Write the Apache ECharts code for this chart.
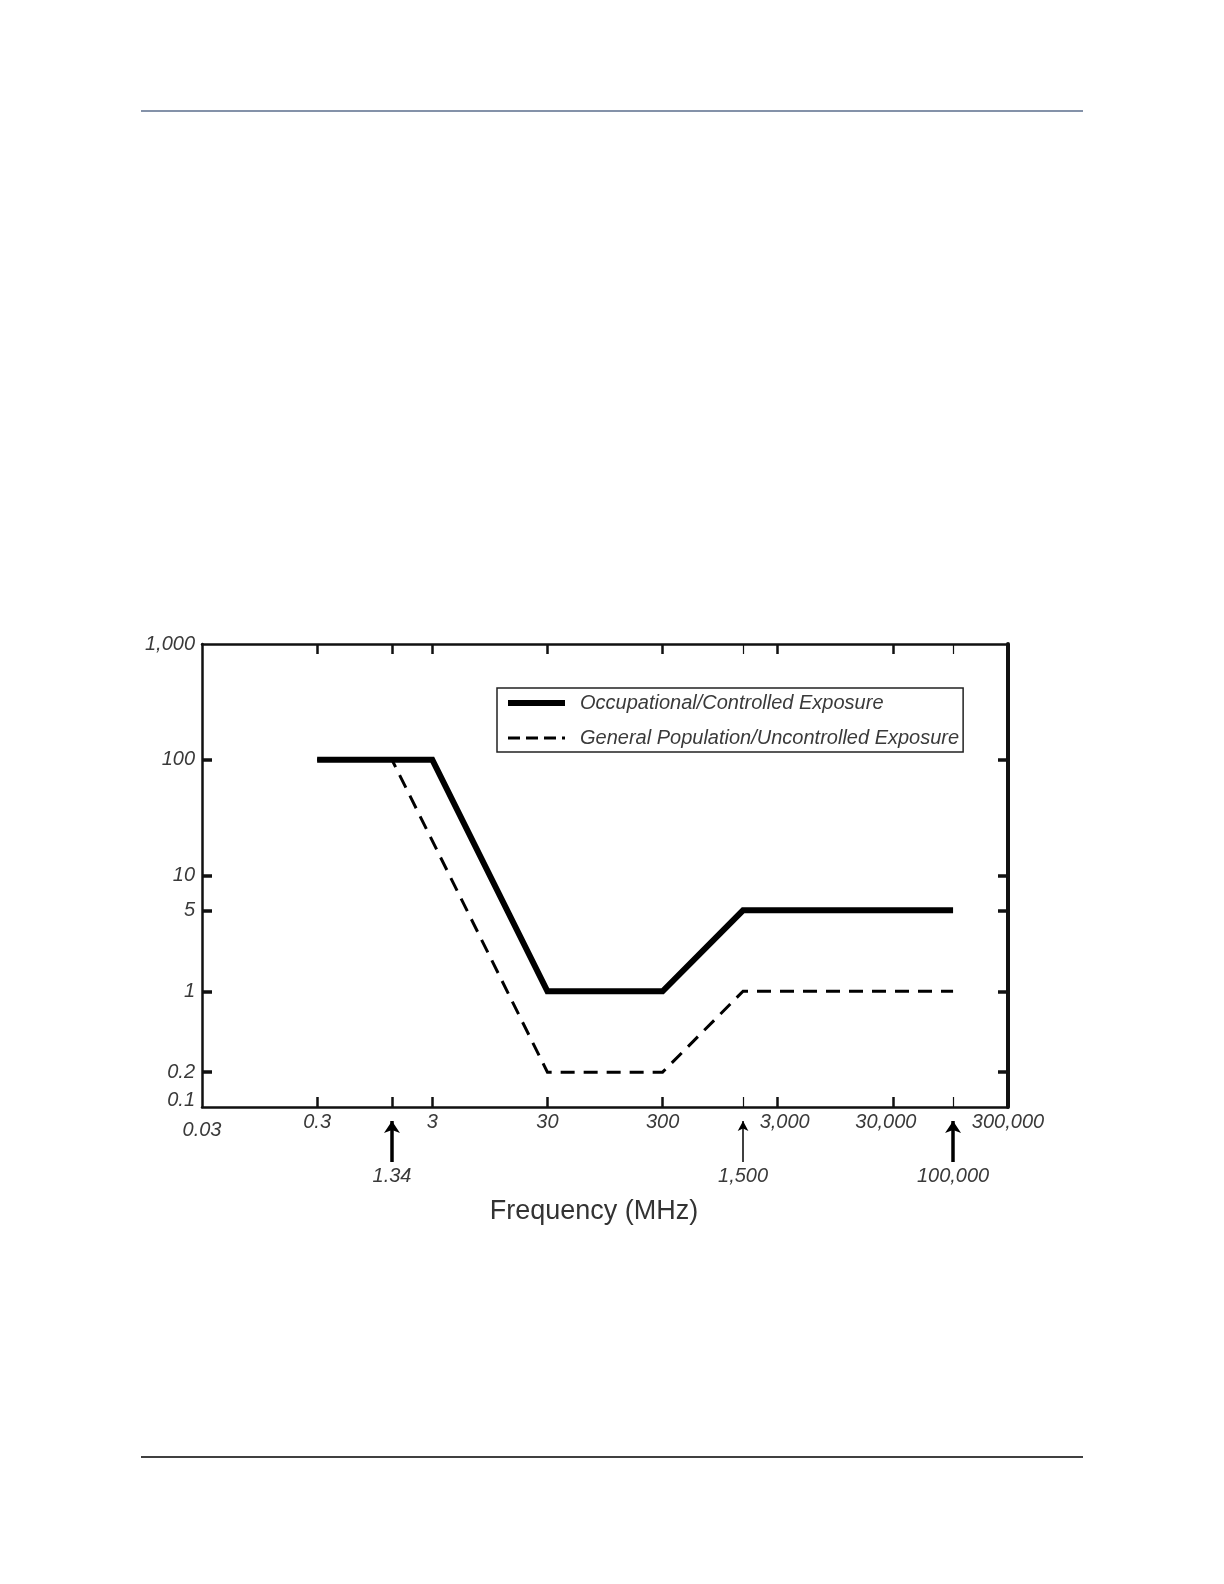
<!DOCTYPE html>
<html>
<head>
<meta charset="utf-8">
<script src="https://cdn.jsdelivr.net/npm/echarts@6/dist/echarts.min.js"></script>
<style>
  html, body { margin: 0; padding: 0; background: #fff; }
  #chart { width: 1224px; height: 1584px; }
</style>
</head>
<body>
<div id="chart"></div>
<script>
// frequency in MHz, power density in mW/cm2
const occFreq = [0.3, 3, 30, 300, 1500, 100000];
const occDensity = [100, 100, 1, 1, 5, 5];
const genFreq = [0.3, 1.34, 30, 300, 1500, 100000];
const genDensity = [100, 100, 0.2, 0.2, 1, 1];

const freqTicks = [0.3, 1.34, 3, 30, 300, 3000, 30000];
const freqThinTicks = [1500, 100000];
const freqLabelValues = [0.03, 0.3, 3, 30, 300, 3000, 30000, 300000];
const freqLabels = ['0.03', '0.3', '3', '30', '300', '3,000', '30,000', '300,000'];
const densityTicks = [100, 10, 5, 1, 0.2];
const densityLabelValues = [1000, 100, 10, 5, 1, 0.2, 0.1];
const densityLabels = ['1,000', '100', '10', '5', '1', '0.2', '0.1'];
const arrowFreqs = [1.34, 1500, 100000];
const arrowLabels = ['1.34', '1,500', '100,000'];

const seriesNames = ['Occupational/Controlled Exposure', 'General Population/Uncontrolled Exposure'];

const lg = (v) => Math.log10(v);
const xMin = lg(freqLabelValues[0]);
const xMax = lg(freqLabelValues[freqLabelValues.length - 1]);
const yMin = lg(densityLabelValues[densityLabelValues.length - 1]);
const yMax = lg(densityLabelValues[0]);

const font = {
  fontFamily: 'Liberation Sans, Arial, sans-serif',
  fontStyle: 'italic',
  fontSize: 20,
  color: '#3a3a3a',
};
const axisColor = '#111';

// pick the label text that belongs to a log-space value
function labelFor(values, labels, v) {
  const idx = values.findIndex((x) => Math.abs(lg(x) - v) < 1e-6);
  return idx < 0 ? '' : labels[idx];
}

// a few labels sit a little off their tick in the original
const xShift = { '0.03': 'low', '3,000': 'right', '30,000': 'left' };
const yShift = { '0.1': 'up' };

function xAxisOf(position, ticks, tickWidth, withLine, withLabels) {
  return {
    type: 'value',
    gridIndex: 0,
    position: position,
    min: xMin,
    max: xMax,
    splitLine: { show: false },
    axisLine: { show: withLine, onZero: false, lineStyle: { color: axisColor, width: 2.5 } },
    axisTick: {
      show: true,
      inside: true,
      length: 10,
      customValues: ticks.map(lg),
      lineStyle: { color: axisColor, width: tickWidth },
    },
    axisLabel: withLabels
      ? {
          show: true,
          margin: 5,
          customValues: freqLabelValues.map(lg),
          ...font,
          formatter: (v) => {
            const t = labelFor(freqLabelValues, freqLabels, v);
            return xShift[t] ? '{' + xShift[t] + '|' + t + '}' : t;
          },
          rich: {
            low: { ...font, padding: [8, 0, 0, 0] },
            right: { ...font, padding: [0, 0, 0, 14] },
            left: { ...font, padding: [0, 14, 0, 0] },
          },
        }
      : { show: false },
  };
}

function yAxisOf(position, withLabels, width) {
  return {
    type: 'value',
    gridIndex: 0,
    position: position,
    min: yMin,
    max: yMax,
    splitLine: { show: false },
    axisLine: { show: true, onZero: false, lineStyle: { color: axisColor, width: width } },
    axisTick: {
      show: true,
      inside: true,
      length: 10,
      customValues: densityTicks.map(lg),
      lineStyle: { color: axisColor, width: 3.5 },
    },
    axisLabel: withLabels
      ? {
          show: true,
          margin: 7,
          customValues: densityLabelValues.map(lg),
          ...font,
          formatter: (v) => {
            const t = labelFor(densityLabelValues, densityLabels, v);
            return yShift[t] ? '{' + yShift[t] + '|' + t + '}' : t;
          },
          rich: { up: { ...font, padding: [0, 0, 14, 0] } },
        }
      : { show: false },
  };
}

const chart = echarts.init(document.getElementById('chart'), null, { renderer: 'canvas' });

const option = {
  animation: false,
  backgroundColor: '#fff',
  grid: [
    { left: 202, top: 644, width: 806, height: 463, outerBoundsMode: 'none' },
    { left: 202, top: 1121, width: 806, height: 41, outerBoundsMode: 'none' },
  ],
  legend: {
    left: 497,
    top: 688,
    orient: 'vertical',
    backgroundColor: '#fff',
    borderColor: '#222',
    borderWidth: 1.5,
    borderRadius: 0,
    padding: [3, 4, 2, 8],
    itemWidth: 57,
    itemHeight: 14,
    itemGap: 11,
    selectedMode: false,
    itemStyle: { opacity: 0 },
    textStyle: { ...font, lineHeight: 24, padding: [0, 0, 0, 10] },
    data: [
      { name: seriesNames[0], lineStyle: { width: 6, type: 'solid', color: '#000' } },
      { name: seriesNames[1], lineStyle: { width: 3, type: [12, 6], color: '#000' } },
    ],
  },
  xAxis: [
    {
      ...xAxisOf('bottom', freqTicks, 2.5, true, true),
      name: 'Frequency (MHz)',
      nameLocation: 'middle',
      nameGap: 91,
      nameTextStyle: {
        fontFamily: 'Liberation Sans, Arial, sans-serif',
        fontSize: 27,
        color: '#333',
        padding: [0, 22, 0, 0],
      },
    },
    xAxisOf('bottom', freqThinTicks, 1.2, false, false),
    xAxisOf('top', freqTicks, 2.5, true, false),
    xAxisOf('top', freqThinTicks, 1.2, false, false),
    { type: 'value', gridIndex: 1, min: xMin, max: xMax, show: false },
  ],
  yAxis: [
    yAxisOf('left', true, 2.5),
    yAxisOf('right', false, 4),
    { type: 'value', gridIndex: 1, min: 0, max: 1, show: false },
  ],
  series: [
    {
      name: seriesNames[0],
      type: 'line',
      xAxisIndex: 0,
      yAxisIndex: 0,
      symbol: 'none',
      z: 4,
      data: occFreq.map((f, i) => [lg(f), lg(occDensity[i])]),
      itemStyle: { color: '#000' },
      lineStyle: { color: '#000', width: 6, join: 'miter', cap: 'butt' },
    },
    {
      name: seriesNames[1],
      type: 'line',
      xAxisIndex: 0,
      yAxisIndex: 0,
      symbol: 'none',
      z: 3,
      data: genFreq.map((f, i) => [lg(f), lg(genDensity[i])]),
      itemStyle: { color: '#000' },
      lineStyle: { color: '#000', width: 3, type: [14, 9], join: 'miter' },
    },
    {
      // arrows under the axis pointing at the break frequencies
      name: 'arrows',
      type: 'line',
      xAxisIndex: 4,
      yAxisIndex: 2,
      silent: true,
      data: [],
      markLine: {
        silent: true,
        animation: false,
        symbol: ['none', 'arrow'],
        label: { show: true, position: 'start', distance: 4, formatter: '{b}', ...font },
        data: arrowFreqs.map((f, i) => {
          const thin = arrowLabels[i] === '1,500';
          return [
            { name: arrowLabels[i], coord: [lg(f), 0], lineStyle: { color: '#000', type: 'solid', width: thin ? 1.5 : 3.5 } },
            { name: arrowLabels[i], coord: [lg(f), 1], symbolSize: thin ? [8, 10] : [12, 12] },
          ];
        }),
      },
    },
  ],
  graphic: [
    { type: 'line', shape: { x1: 141, y1: 111, x2: 1083, y2: 111 }, style: { stroke: '#5b6e8c', lineWidth: 1.5 } },
    { type: 'line', shape: { x1: 141, y1: 1457, x2: 1083, y2: 1457 }, style: { stroke: '#000', lineWidth: 1.5 } },
  ],
};

chart.setOption(option);
</script>
</body>
</html>
